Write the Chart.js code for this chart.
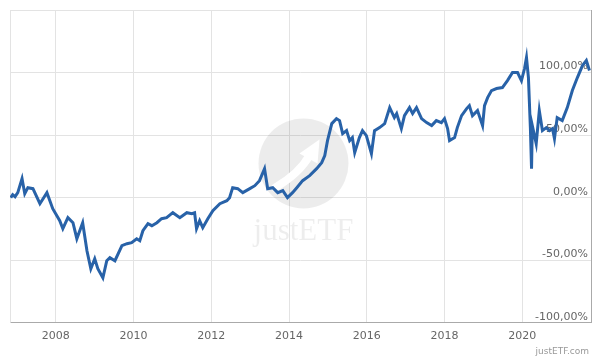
<!DOCTYPE html>
<html>
<head>
<meta charset="utf-8">
<script src="https://cdn.jsdelivr.net/npm/chart.js@4"></script>
<style>
  html, body { margin: 0; padding: 0; background: #fff; }
  #wrap { width: 600px; height: 360px; }
</style>
</head>
<body>
<div id="wrap"><canvas id="perfChart" width="600" height="360"></canvas></div>
<script>
// decimal years
const dates = [2006.84, 2006.89, 2006.95, 2007.02, 2007.13, 2007.20, 2007.28, 2007.41, 2007.59, 2007.77,
  2007.92, 2008.10, 2008.18, 2008.31, 2008.44, 2008.54, 2008.69, 2008.80, 2008.90, 2009.00,
  2009.08, 2009.21, 2009.31, 2009.39, 2009.52, 2009.70, 2009.83, 2009.95, 2010.08, 2010.16,
  2010.24, 2010.37, 2010.47, 2010.60, 2010.72, 2010.85, 2011.01, 2011.19, 2011.37, 2011.50,
  2011.57, 2011.62, 2011.70, 2011.78, 2011.91, 2012.04, 2012.22, 2012.40, 2012.47, 2012.55,
  2012.68, 2012.81, 2012.99, 2013.12, 2013.24, 2013.37, 2013.45, 2013.58, 2013.71, 2013.84,
  2013.96, 2014.09, 2014.20, 2014.35, 2014.53, 2014.71, 2014.84, 2014.92, 2014.99, 2015.10,
  2015.22, 2015.30, 2015.38, 2015.48, 2015.56, 2015.63, 2015.69, 2015.81, 2015.89, 2015.99,
  2016.12, 2016.20, 2016.33, 2016.46, 2016.59, 2016.71, 2016.77, 2016.89, 2016.97, 2017.10,
  2017.18, 2017.28, 2017.41, 2017.54, 2017.67, 2017.79, 2017.92, 2018.00, 2018.08, 2018.13,
  2018.26, 2018.33, 2018.44, 2018.57, 2018.64, 2018.72, 2018.85, 2018.98, 2019.03, 2019.11,
  2019.21, 2019.34, 2019.49, 2019.62, 2019.75, 2019.88, 2019.98, 2020.06, 2020.11, 2020.16,
  2020.21, 2020.24, 2020.26, 2020.36, 2020.44, 2020.52, 2020.62, 2020.70, 2020.78, 2020.83,
  2020.90, 2021.03, 2021.16, 2021.29, 2021.42, 2021.55, 2021.65, 2021.73];

// performance in %
const perf = [0, 2.4, 0.8, 4, 15.2, 3.2, 8, 7.2, -4.8, 4,
  -8.8, -18.4, -24.8, -16, -20, -32.8, -20, -42.4, -56.8, -48.8,
  -56.8, -64, -50.4, -48, -50.4, -38.4, -36.8, -36, -32.8, -34.4,
  -26.4, -20.8, -22.4, -20, -16.8, -16, -12, -16, -12, -12.8,
  -12, -24.8, -18.4, -24, -16.8, -10.4, -4.8, -2.4, 0, 8,
  7.2, 4, 7.2, 9.6, 13.6, 23.2, 7.2, 8, 4, 5.6,
  0, 4, 8, 13.6, 17.6, 23.2, 28, 33.6, 45.6, 59.2,
  63.2, 61.6, 51.2, 53.6, 45.6, 48, 36, 48, 53.6, 49.6,
  35.2, 53.6, 56, 59.2, 72, 64, 67.2, 55.2, 65.6, 72,
  67.2, 72, 63.2, 60, 57.6, 61.6, 60, 63.2, 55.2, 45.6,
  48, 56, 65.6, 71.2, 73.6, 65.6, 69.6, 57.6, 73.6, 80,
  85.6, 87.2, 88, 93.6, 100, 100, 93.6, 103.2, 112, 96,
  56, 23.2, 57.6, 43.2, 69.6, 53.6, 56, 53.6, 55.2, 47.2,
  64, 61.6, 72, 85.6, 96, 105.6, 109.6, 101.6];

const xTicks = [2008, 2010, 2012, 2014, 2016, 2018, 2020];
const xLabels = ['2008', '2010', '2012', '2014', '2016', '2018', '2020'];
const yTicks = [-100, -50, 0, 50, 100, 150];
const yLabels = ['-100,00%', '-50,00%', '0,00%', '50,00%', '100,00%', ''];

const tickFont = { family: 'DejaVu Sans', size: 11 };

const watermark = {
  id: 'watermark',
  beforeDatasetsDraw(chart) {
    const { ctx, chartArea: a } = chart;
    const cx = (a.left + a.right) / 2 + 3;
    const cy = (a.top + a.bottom) / 2 - 3;
    ctx.save();
    // light frame on left and top
    ctx.strokeStyle = '#e3e3e3';
    ctx.lineWidth = 1;
    ctx.beginPath();
    ctx.moveTo(a.left + 0.5, a.bottom);
    ctx.lineTo(a.left + 0.5, a.top + 0.5);
    ctx.lineTo(a.right, a.top + 0.5);
    ctx.stroke();
    // logo circle
    ctx.fillStyle = 'rgba(0,0,0,0.075)';
    ctx.beginPath();
    ctx.arc(cx, cy, 45, 0, Math.PI * 2);
    ctx.fill();
    // white arrow
    ctx.strokeStyle = '#fff';
    ctx.fillStyle = '#fff';
    ctx.lineWidth = 8;
    ctx.lineCap = 'round';
    ctx.beginPath();
    ctx.moveTo(cx - 28, cy + 24);
    ctx.quadraticCurveTo(cx - 4, cy + 10, cx + 6, cy - 8);
    ctx.stroke();
    ctx.beginPath();
    ctx.moveTo(cx + 16, cy - 24);
    ctx.lineTo(cx - 4, cy - 10);
    ctx.lineTo(cx + 14, cy);
    ctx.closePath();
    ctx.fill();
    // logo text
    ctx.fillStyle = 'rgba(0,0,0,0.07)';
    ctx.font = '31px "Liberation Serif"';
    ctx.textAlign = 'center';
    ctx.textBaseline = 'alphabetic';
    ctx.fillText('justETF', cx, cy + 77);
    ctx.restore();
  },
  afterDraw(chart) {
    const { ctx } = chart;
    ctx.save();
    ctx.fillStyle = '#999';
    ctx.font = '9px "DejaVu Sans"';
    ctx.textAlign = 'right';
    ctx.textBaseline = 'middle';
    ctx.fillText('justETF.com', 589, 352);
    ctx.restore();
  }
};

new Chart(document.getElementById('perfChart'), {
  type: 'line',
  data: {
    datasets: [{
      data: dates.map((d, i) => ({ x: d, y: perf[i] })),
      borderColor: '#2862a8',
      borderWidth: 3,
      pointRadius: 0,
      tension: 0,
      fill: false
    }]
  },
  options: {
    responsive: false,
    animation: false,
    layout: { padding: { left: 10, right: 9, top: 10, bottom: 10 } },
    plugins: {
      legend: { display: false },
      tooltip: { enabled: false }
    },
    scales: {
      x: {
        type: 'linear',
        min: 2006.82,
        max: 2021.77,
        afterBuildTicks: s => { s.ticks = xTicks.map(v => ({ value: v })); },
        grid: { color: '#e3e3e3', drawTicks: false },
        border: { color: '#aaa' },
        ticks: {
          padding: 7,
          font: tickFont,
          color: '#666',
          maxRotation: 0,
          autoSkip: false,
          callback: (v, i) => xLabels[i]
        }
      },
      y: {
        position: 'right',
        min: -100,
        max: 150,
        afterBuildTicks: s => { s.ticks = yTicks.map(v => ({ value: v })); },
        grid: { color: '#e3e3e3', drawTicks: false },
        border: { color: '#aaa' },
        ticks: {
          mirror: true,
          padding: -3,
          labelOffset: -6,
          font: tickFont,
          color: '#666',
          callback: (v, i) => yLabels[i]
        }
      }
    }
  },
  plugins: [watermark]
});
</script>
</body>
</html>
